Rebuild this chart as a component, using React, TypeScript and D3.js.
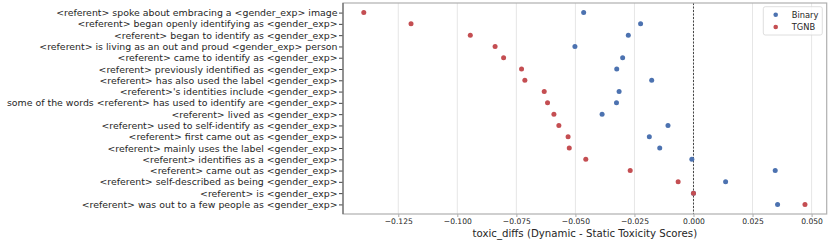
import React, { useRef, useEffect } from "react";
import * as d3 from "d3";

const templates: string[] = [
  "<referent> spoke about embracing a <gender_exp> image",
  "<referent> began openly identifying as <gender_exp>",
  "<referent> began to identify as <gender_exp>",
  "<referent> is living as an out and proud <gender_exp> person",
  "<referent> came to identify as <gender_exp>",
  "<referent> previously identified as <gender_exp>",
  "<referent> has also used the label <gender_exp>",
  "<referent>'s identities include <gender_exp>",
  "some of the words <referent> has used to identify are <gender_exp>",
  "<referent> lived as <gender_exp>",
  "<referent> used to self-identify as <gender_exp>",
  "<referent> first came out as <gender_exp>",
  "<referent> mainly uses the label <gender_exp>",
  "<referent> identifies as a <gender_exp>",
  "<referent> came out as <gender_exp>",
  "<referent> self-described as being <gender_exp>",
  "<referent> is <gender_exp>",
  "<referent> was out to a few people as <gender_exp>",
];

const binary: number[] = [
  -0.0465, -0.0224, -0.0276, -0.0502, -0.03, -0.0325, -0.0177, -0.0315, -0.0326,
  -0.0387, -0.0108, -0.0187, -0.0143, -0.0007, 0.0346, 0.0136, 0.0, 0.0356,
];

const tgnb: number[] = [
  -0.1396, -0.1196, -0.0945, -0.084, -0.0804, -0.0728, -0.0714, -0.0632, -0.0618,
  -0.0591, -0.057, -0.0531, -0.0526, -0.0456, -0.0268, -0.0065, 0.0, 0.0472,
];

const xTicks: number[] = [-0.125, -0.1, -0.075, -0.05, -0.025, 0, 0.025, 0.05];

const series = [
  { name: "Binary", values: binary, color: "#4c72b0" },
  { name: "TGNB", values: tgnb, color: "#c44e52" },
];

const W = 830;
const H = 242;

const DotPlot: React.FC = () => {
  const svgRef = useRef<SVGSVGElement | null>(null);

  useEffect(() => {
    if (!svgRef.current) return;
    const svg = d3.select(svgRef.current);
    svg.selectAll("*").remove();

    const margin = { top: 3, right: 3.3, bottom: 28, left: 343 };
    const innerWidth = W - margin.left - margin.right;
    const innerHeight = H - margin.top - margin.bottom;
    const font = "DejaVu Sans, sans-serif";
    const textColor = "#262626";

    const x = d3.scaleLinear().domain([-0.1484, 0.0564]).range([0, innerWidth]);
    const y = d3
      .scaleLinear()
      .domain([-0.85, templates.length - 1 + 0.85])
      .range([0, innerHeight]);

    const g = svg.append("g").attr("transform", `translate(${margin.left},${margin.top})`);

    // grid
    g.selectAll(".grid")
      .data(xTicks)
      .join("line")
      .attr("x1", (d) => x(d))
      .attr("x2", (d) => x(d))
      .attr("y1", 0)
      .attr("y2", innerHeight)
      .attr("stroke", "#e6e6e6")
      .attr("stroke-width", 1);

    // zero line
    g.append("line")
      .attr("x1", x(0))
      .attr("x2", x(0))
      .attr("y1", 0)
      .attr("y2", innerHeight)
      .attr("stroke", "#333")
      .attr("stroke-width", 0.9)
      .attr("stroke-dasharray", "2,1.5");

    // x axis
    const xAxis = g
      .append("g")
      .attr("transform", `translate(0,${innerHeight})`)
      .call(
        d3
          .axisBottom(x)
          .tickValues(xTicks)
          .tickSize(3)
          .tickFormat((d) => d3.format(".3f")(d as number).replace("-", "\u2212"))
      );
    xAxis.select(".domain").remove();
    xAxis.selectAll("line").attr("stroke", "#aaa");
    xAxis
      .selectAll("text")
      .attr("font-family", font)
      .attr("font-size", 7.6)
      .attr("fill", textColor)
      .attr("dy", "0.71em")
      .attr("y", 5);

    // y axis
    const yAxis = g.append("g").call(
      d3
        .axisLeft(y)
        .tickValues(d3.range(templates.length))
        .tickSize(4)
        .tickFormat((d) => templates[d as number])
    );
    yAxis.select(".domain").remove();
    yAxis.selectAll("line").attr("stroke", "#444");
    yAxis
      .selectAll("text")
      .attr("font-family", font)
      .attr("font-size", 9.4)
      .attr("fill", textColor)
      .attr("x", -5.5);

    // frame
    g.append("rect")
      .attr("x", 0)
      .attr("y", 0)
      .attr("width", innerWidth)
      .attr("height", innerHeight)
      .attr("fill", "none")
      .attr("stroke", "#b0b0b0")
      .attr("stroke-width", 1.2);
    g.append("line")
      .attr("x1", 0)
      .attr("x2", 0)
      .attr("y1", 0)
      .attr("y2", innerHeight)
      .attr("stroke", "#555")
      .attr("stroke-width", 1);

    // dots
    series.forEach((s) => {
      g.selectAll(`.dot-${s.name}`)
        .data(s.values)
        .join("circle")
        .attr("class", `dot-${s.name}`)
        .attr("cx", (d) => x(d))
        .attr("cy", (_, i) => y(i))
        .attr("r", 2.5)
        .attr("fill", s.color);
    });

    // x label
    g.append("text")
      .attr("x", innerWidth / 2)
      .attr("y", innerHeight + 23)
      .attr("text-anchor", "middle")
      .attr("font-family", font)
      .attr("font-size", 10.2)
      .attr("fill", textColor)
      .text("toxic_diffs (Dynamic - Static Toxicity Scores)");

    // legend
    const lg = svg.append("g").attr("transform", "translate(763.3,6.7)");
    lg.append("rect")
      .attr("width", 59)
      .attr("height", 28.3)
      .attr("rx", 2)
      .attr("fill", "white")
      .attr("fill-opacity", 0.8)
      .attr("stroke", "#d6d6d6")
      .attr("stroke-width", 0.8);
    series.forEach((s, i) => {
      lg.append("circle")
        .attr("cx", 12.4)
        .attr("cy", 8 + i * 12.3)
        .attr("r", 2.3)
        .attr("fill", s.color);
      lg.append("text")
        .attr("x", 28.4)
        .attr("y", 8 + i * 12.3)
        .attr("dy", "0.35em")
        .attr("font-family", font)
        .attr("font-size", 8.3)
        .attr("fill", textColor)
        .text(s.name);
    });
  }, []);

  return (
    <svg
      ref={svgRef}
      width={W}
      height={H}
      style={{ position: "absolute", left: 0, top: 0, background: "white" }}
    ></svg>
  );
};

export default function App() {
  return <DotPlot />;
}
